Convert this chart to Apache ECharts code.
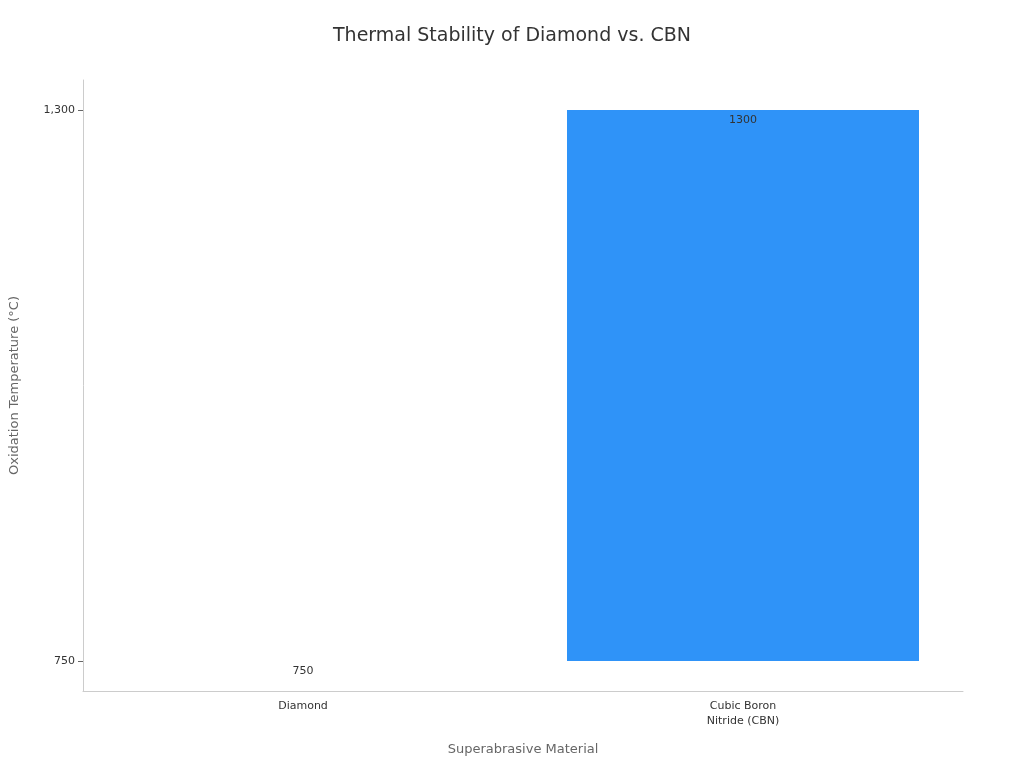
<!DOCTYPE html>
<html><head><meta charset="utf-8">
<script src="https://cdn.jsdelivr.net/npm/echarts@6/dist/echarts.min.js"></script>
<style>html,body{margin:0;padding:0;background:#fff}#c{width:1024px;height:768px}</style>
</head><body><div id="c"></div>
<script>
const categories = ['Diamond', 'Cubic Boron\nNitride (CBN)'];
const oxidationTemps = [750, 1300];
const baseTemp = 750;
const tickValues = [750, 1300];

const chart = echarts.init(document.getElementById('c'));
chart.setOption({
  backgroundColor: '#fff',
  title: { text: 'Thermal Stability of Diamond vs. CBN', left: 'center', top: 22,
    textStyle: { fontFamily: 'DejaVu Sans', fontSize: 19, fontWeight: 'normal', color: '#333' } },
  grid: { left: 76, right: 61, top: 80, bottom: 77 },
  xAxis: { type: 'category', data: categories,
    name: 'Superabrasive Material', nameLocation: 'middle', nameGap: 52,
    nameTextStyle: { fontFamily: 'DejaVu Sans', fontSize: 13, color: '#666' },
    axisLine: { lineStyle: { color: '#ccc' } },
    axisTick: { alignWithLabel: true, lineStyle: { color: '#666' } },
    axisLabel: { fontFamily: 'DejaVu Sans', fontSize: 11, color: '#333', lineHeight: 15 } },
  yAxis: { type: 'value', min: 720, max: 1330,
    name: 'Oxidation Temperature (°C)', nameLocation: 'middle', nameGap: 62,
    nameTextStyle: { fontFamily: 'DejaVu Sans', fontSize: 13, color: '#666' },
    splitLine: { show: false },
    axisLine: { show: true, lineStyle: { color: '#ccc' } },
    axisTick: { show: true, customValues: tickValues, lineStyle: { color: '#666' } },
    axisLabel: { customValues: tickValues, fontFamily: 'DejaVu Sans', fontSize: 11, color: '#333' } },
  series: [
    { type: 'bar', stack: 's', data: categories.map(() => baseTemp),
      itemStyle: { color: 'transparent' }, silent: true, barWidth: '80%' },
    { type: 'bar', stack: 's', data: oxidationTemps.map(v => v - baseTemp),
      itemStyle: { color: '#2f93f8' }, barWidth: '80%',
      label: { show: true, position: 'insideTop', color: '#333', fontFamily: 'DejaVu Sans', fontSize: 11,
        formatter: p => oxidationTemps[p.dataIndex] } }
  ]
});
</script></body></html>
